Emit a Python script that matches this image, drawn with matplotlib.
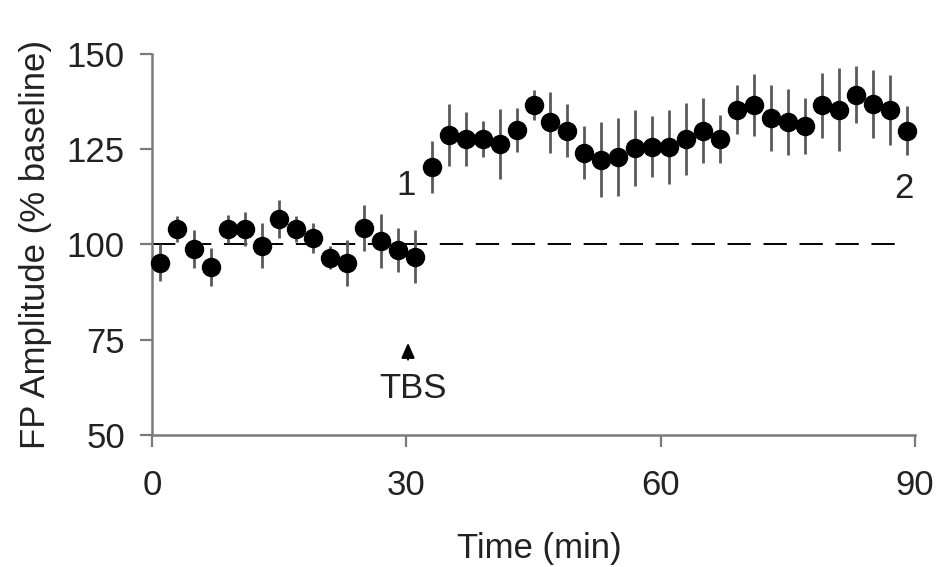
import matplotlib
matplotlib.use("Agg")
import matplotlib.pyplot as plt
import numpy as np

# time points (min) and FP amplitude (% baseline) with error bars
time_min = [1, 3, 5, 7, 9, 11, 13, 15, 17, 19, 21, 23, 25, 27, 29, 31,
            33, 35, 37, 39, 41, 43, 45, 47, 49, 51, 53, 55, 57, 59, 61,
            63, 65, 67, 69, 71, 73, 75, 77, 79, 81, 83, 85, 87, 89]
amplitude = [95.2, 104.1, 98.7, 94.1, 104.1, 104.1, 99.7, 106.7, 104.1, 101.7,
             96.5, 95.2, 104.4, 100.9, 98.5, 96.8,
             120.3, 128.8, 127.7, 127.7, 126.4, 130.1, 136.6, 132.1, 129.9, 124.1,
             122.3, 123.0, 125.3, 125.6, 125.6, 127.7, 129.9, 127.7, 135.4, 136.6,
             133.2, 132.1, 131.1, 136.5, 135.4, 139.3, 136.9, 135.4, 129.9]
sem = [4.8, 3.5, 5.0, 5.0, 3.7, 4.5, 6.0, 5.0, 3.5, 4.0, 3.0, 6.0, 6.0, 7.0, 5.7, 7.0,
       6.9, 8.1, 7.1, 4.8, 9.2, 5.8, 4.0, 8.0, 7.0, 7.0, 9.8, 10.3, 10.0, 8.0, 9.7,
       9.4, 8.6, 6.3, 6.4, 8.2, 8.7, 8.7, 7.3, 8.6, 10.8, 7.5, 9.0, 9.2, 6.4]

x_ticks = [0, 30, 60, 90]
y_ticks = [50, 75, 100, 125, 150]

plt.rcParams["font.family"] = ["Liberation Sans", "DejaVu Sans"]
FS = 25

fig = plt.figure(figsize=(9.43, 5.67), dpi=100)
ax = fig.add_axes([0.1612, 0.2328, 0.8091, 0.672])

spine_c = "#7a7a7a"
ax.hlines(100, 0, 89, colors="black", lw=1.4, linestyles=(0, (12, 6.5)), zorder=1)
ax.errorbar(time_min, amplitude, yerr=sem, fmt="o", color="black", ms=13,
            ecolor="#5a5a5a", elinewidth=2.0, capsize=0, clip_on=False, zorder=3)

ax.set_xlim(0, 90)
ax.set_ylim(50, 150)
ax.set_xticks(x_ticks)
ax.set_yticks(y_ticks)
for s in ("top", "right"):
    ax.spines[s].set_visible(False)
for s in ("left", "bottom"):
    ax.spines[s].set_color(spine_c)
    ax.spines[s].set_linewidth(1.8)
ax.tick_params(axis="both", direction="out", length=8.5, width=1.6, color=spine_c,
               labelsize=FS, labelcolor="#222222")
ax.tick_params(axis="x", pad=16)
ax.tick_params(axis="y", pad=11)

ax.set_xlabel("Time (min)", fontsize=FS, color="#222222")
ax.xaxis.set_label_coords(0.507, -0.297)
ax.xaxis.label.set_va("center")
ax.set_ylabel("FP Amplitude (% baseline)", fontsize=FS, color="#222222")
ax.yaxis.set_label_coords(-0.153, 0.5)
ax.yaxis.label.set_va("center")

ax.text(30, 115.5, "1", fontsize=FS, ha="center", va="center", color="#222222")
ax.text(88.7, 114.7, "2", fontsize=FS, ha="center", va="center", color="#222222")
ax.annotate("", xy=(30.2, 74.2), xytext=(30.2, 69.8),
            arrowprops=dict(arrowstyle="-|>,head_length=0.45,head_width=0.2",
                            color="black", lw=1.5, shrinkA=0, shrinkB=0,
                            mutation_scale=20))
ax.text(30.8, 62.3, "TBS", fontsize=FS, ha="center", va="center", color="#222222")

fig.savefig("out.png", dpi=100, facecolor="white")
